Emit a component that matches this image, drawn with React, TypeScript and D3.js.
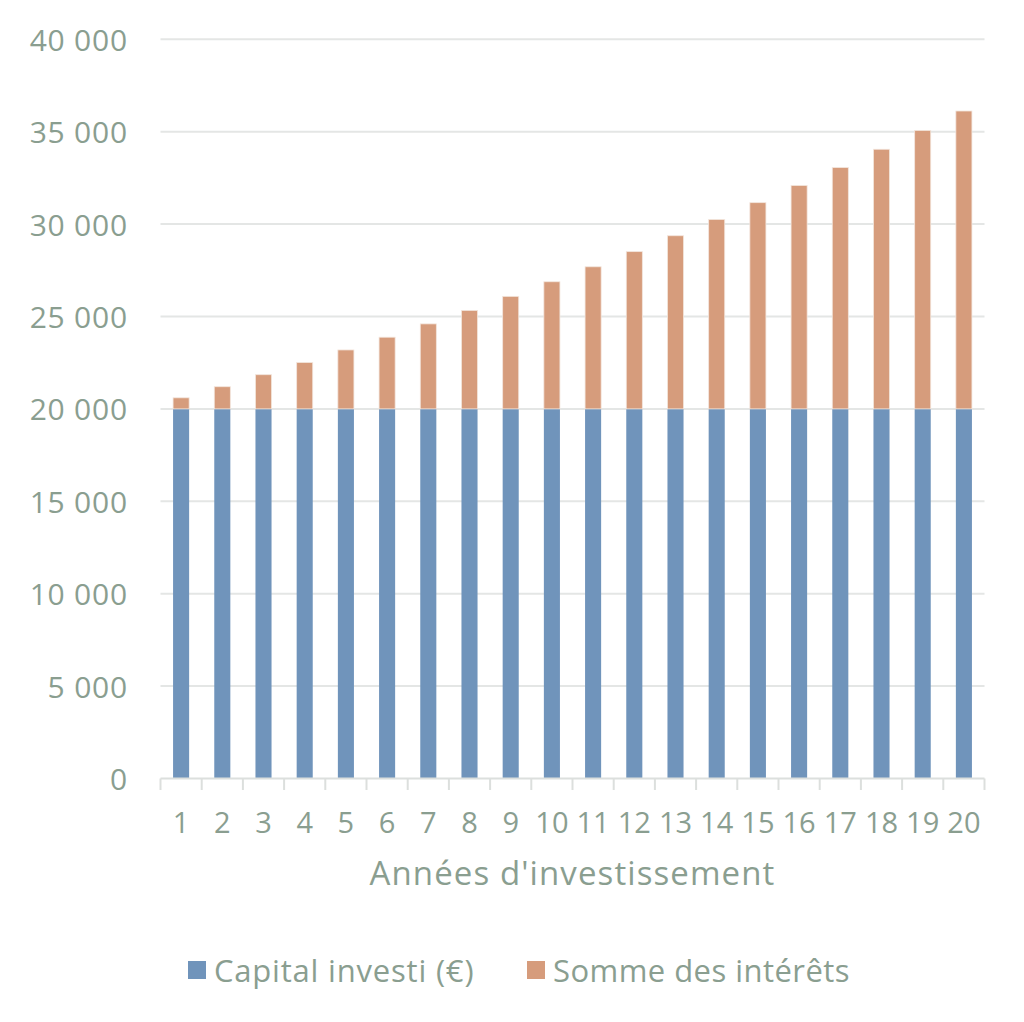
import React from "react";
import * as d3 from "d3";

const years = ["1","2","3","4","5","6","7","8","9","10","11","12","13","14","15","16","17","18","19","20"];
const capital = [20000,20000,20000,20000,20000,20000,20000,20000,20000,20000,20000,20000,20000,20000,20000,20000,20000,20000,20000,20000];
const totals = [20600,21200,21850,22510,23190,23880,24600,25330,26090,26880,27690,28510,29370,30250,31160,32090,33060,34050,35070,36120];
const interets = totals.map((t, i) => t - capital[i]);
const yTicks = [0,5000,10000,15000,20000,25000,30000,35000,40000];
const seriesNames = ["Capital investi (€)", "Somme des intérêts"];
const colors = ["#7094bb", "#d69c7c"];

const W = 1024, H = 1022;
const left = 160.5, right = 984.5, top = 39.3, bottom = 778.5;
const textColor = "#8a9e90";
const font = "'Open Sans', sans-serif";

export default function App() {
  const x = d3.scaleBand<string>().domain(years).range([left, right]).paddingInner(0.61).paddingOuter(0.305);
  const y = d3.scaleLinear().domain([0, 40000]).range([bottom, top]);
  const step = x.step();
  const fmt = (v: number) => v === 0 ? "0" : d3.format(",")(v).replace(/,/g, "\u00A0");
  const stack = d3.stack<number>().keys(["c", "i"]).value((i, k) => (k === "c" ? capital[i] : interets[i]));
  const series = stack(d3.range(years.length));
  return (
    <svg width={W} height={H} style={{ position: "absolute", left: 0, top: 0, background: "#fff" }} fontFamily={font}>
      <rect x={0} y={0} width={W} height={H} fill="#fff" />
      {yTicks.map(t => t > 0 && (
        <line key={t} x1={left} x2={right} y1={y(t)} y2={y(t)} stroke="#e4e6e5" strokeWidth={2} />
      ))}
      {yTicks.map(t => (
        <text key={"l" + t} x={128} y={y(t)} textAnchor="end" dominantBaseline="central" fontSize={30} letterSpacing={0.8} fill={textColor}>{fmt(t)}</text>
      ))}
      {series.map((s, si) => (
        <g key={si}>
          {s.map((d, i) => (
            <rect key={i} x={x(years[i])!} width={x.bandwidth()} y={y(d[1])} height={y(d[0]) - y(d[1])}
              fill={colors[si]} stroke="#f3e6dd" strokeWidth={si === 1 ? 0.8 : 0} />
          ))}
        </g>
      ))}
      <line x1={left} x2={right} y1={bottom} y2={bottom} stroke="#dcdfdd" strokeWidth={2} />
      {d3.range(years.length + 1).map(i => (
        <line key={"t" + i} x1={left + i * step} x2={left + i * step} y1={bottom} y2={790} stroke="#dcdfdd" strokeWidth={2} />
      ))}
      {years.map(yr => (
        <text key={"x" + yr} x={x(yr)! + x.bandwidth() / 2} y={821} textAnchor="middle" dominantBaseline="central" fontSize={29} fill={textColor}>{yr}</text>
      ))}
      <text x={(left + right) / 2} y={885} textAnchor="middle" fontSize={33} letterSpacing={1.1} fill={textColor}>Années d'investissement</text>
      <rect x={188} y={961} width={18} height={18} fill={colors[0]} />
      <text x={214} y={970} dominantBaseline="central" fontSize={31} letterSpacing={0.8} fill={textColor}>{seriesNames[0]}</text>
      <rect x={527} y={961} width={18} height={18} fill={colors[1]} />
      <text x={553} y={970} dominantBaseline="central" fontSize={31} letterSpacing={0.45} fill={textColor}>{seriesNames[1]}</text>
    </svg>
  );
}
